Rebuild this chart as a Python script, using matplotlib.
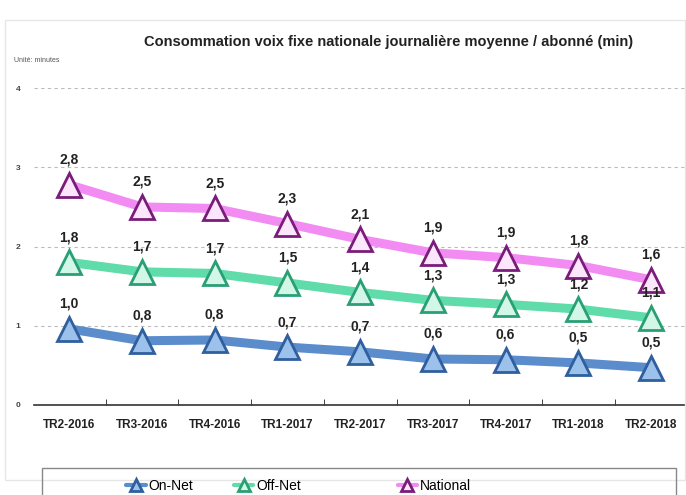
import matplotlib
matplotlib.use("Agg")
import matplotlib.pyplot as plt
from matplotlib.patches import Rectangle

quarters = ["TR2-2016", "TR3-2016", "TR4-2016", "TR1-2017", "TR2-2017",
            "TR3-2017", "TR4-2017", "TR1-2018", "TR2-2018"]
on_net = [0.96, 0.81, 0.82, 0.73, 0.67, 0.58, 0.57, 0.53, 0.47]
off_net = [1.80, 1.68, 1.66, 1.54, 1.42, 1.32, 1.27, 1.21, 1.10]
national = [2.78, 2.50, 2.48, 2.29, 2.09, 1.92, 1.86, 1.76, 1.58]

plt.rcParams["font.family"] = ["Liberation Sans", "DejaVu Sans"]

fig = plt.figure(figsize=(6.86, 4.95), dpi=100)
ax = fig.add_axes([0.05, 0.182, 0.95, 0.64])

series = [
    ("On-Net", on_net, "#5b8ccb", "#9cc2ec", "#2f5f9e"),
    ("Off-Net", off_net, "#5fdcaa", "#d2f7e8", "#2a9f74"),
    ("National", national, "#f28cf2", "#fbe6fb", "#7a1c7a"),
]
x = list(range(len(quarters)))
handles = []
for name, vals, lc, fc, ec in series:
    ln, = ax.plot(x, vals, color=lc, lw=6.5, marker="^", ms=17, mfc=fc, mec=ec,
                  mew=2, label=name, solid_capstyle="round", zorder=3)
    handles.append(ln)
    for xi, v in zip(x, vals):
        ax.annotate(f"{v:.1f}".replace(".", ","), (xi, v), xytext=(0, 13),
                    textcoords="offset points", ha="center", va="bottom",
                    fontsize=10, fontweight="bold", color="#222222", zorder=4)

ax.set_xlim(-0.48, len(quarters) - 0.52)
ax.set_ylim(0, 4)
ax.set_yticks([0, 1, 2, 3, 4])
ax.set_yticklabels(["0", "1", "2", "3", "4"], fontsize=6, fontweight="bold",
                   color="#444444")
ax.yaxis.grid(True, color="#bbbbbb", ls=(0, (3, 3)), lw=0.8)
ax.set_axisbelow(True)
ax.tick_params(axis="y", length=0, pad=10)

ax.set_xticks(x)
ax.set_xticklabels(quarters, fontsize=8.5, fontweight="bold", color="#222222")
ax.set_xticks([i + 0.5 for i in x[:-1]], minor=True)
ax.tick_params(axis="x", which="major", length=0, pad=10)
ax.tick_params(axis="x", which="minor", length=4, direction="in", color="#222222")
for s in ("top", "right", "left"):
    ax.spines[s].set_visible(False)
ax.spines["bottom"].set_color("#333333")
ax.spines["bottom"].set_linewidth(1.2)

fig.text(0.566, 0.915, "Consommation voix fixe nationale journalière moyenne / abonné (min)",
         ha="center", va="center", fontsize=10.5, fontweight="bold", color="#222222")
fig.text(0.02, 0.878, "Unité: minutes", ha="left", va="center", fontsize=5,
         color="#555555")

fig.add_artist(Rectangle((0.008, 0.03), 0.99, 0.93, transform=fig.transFigure,
                         fill=False, ec="#e6e6e6", lw=1))
fig.add_artist(Rectangle((0.061, -0.01), 0.924, 0.065, transform=fig.transFigure,
                         fill=False, ec="#888888", lw=1))

for h, xc in zip(handles, [0.233, 0.39, 0.633]):
    leg = fig.legend([h], [h.get_label()], loc="center", bbox_to_anchor=(xc, 0.018),
                     frameon=False, fontsize=10, handlelength=1.4, markerscale=0.5,
                     handletextpad=0.2, borderpad=0)
    for l in leg.get_lines():
        l.set_linewidth(3)

fig.savefig("out.png", dpi=100)
